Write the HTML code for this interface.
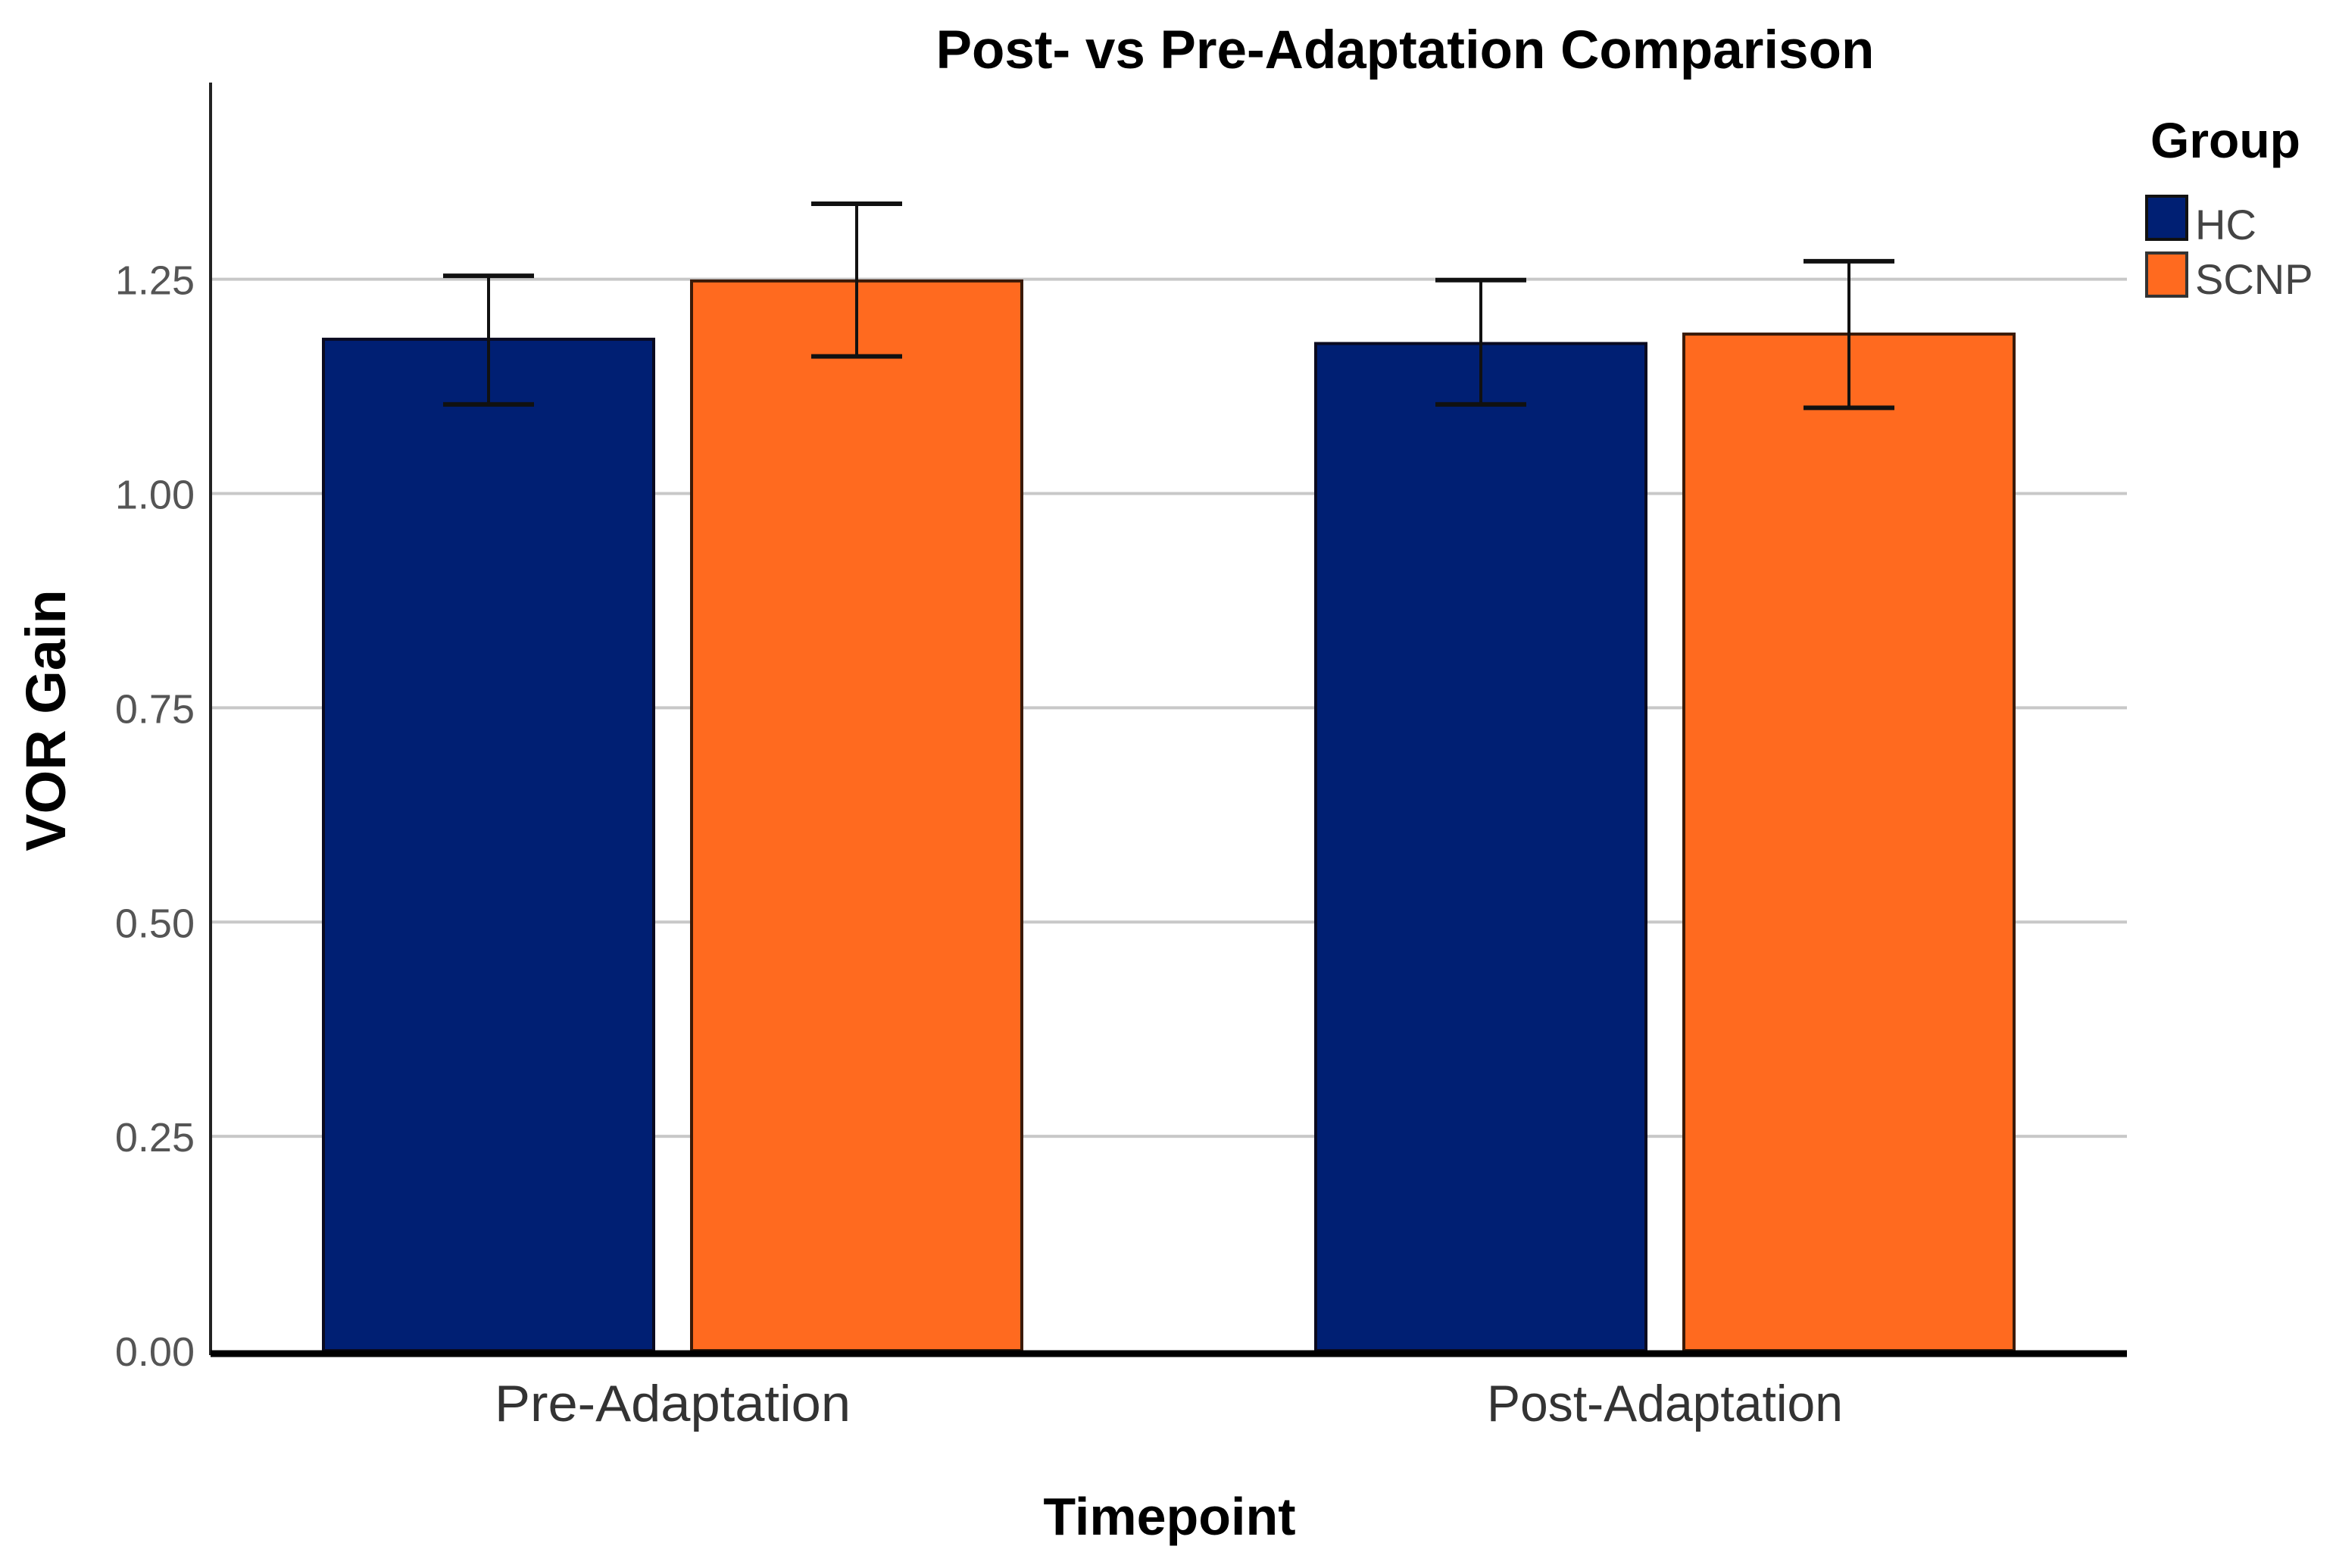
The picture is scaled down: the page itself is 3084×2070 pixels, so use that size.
<!DOCTYPE html>
<html><head><meta charset="utf-8"><style>
html,body{margin:0;padding:0;background:#fff;}
svg{display:block;font-family:"Liberation Sans",Arial,sans-serif;}
</style></head><body>
<svg id="chart" width="3084" height="2070" viewBox="0 0 3084 2070" xmlns="http://www.w3.org/2000/svg">
<rect width="3084" height="2070" fill="#fff"/>
<text x="1855" y="90" font-size="71" font-weight="bold" text-anchor="middle" fill="#000">Post- vs Pre-Adaptation Comparison</text>
<g id="grid"></g>
<g id="bars"></g>
<g id="errs"></g>
<g id="axes"></g>
<text transform="translate(86,951) rotate(-90)" font-size="74" font-weight="bold" text-anchor="middle" fill="#000">VOR Gain</text>
<text x="1544" y="2026" font-size="70" font-weight="bold" text-anchor="middle" fill="#000">Timepoint</text>
<g>
<text x="2839" y="208" font-size="66" font-weight="bold" fill="#000">Group</text>
<g>
<rect x="2834" y="259" width="53" height="57" fill="#001f73" stroke="#111" stroke-width="4"/>
<text x="2898" y="316" font-size="56" fill="#444">HC</text></g>
<g>
<rect x="2834" y="334" width="53" height="57" fill="#ff6a1f" stroke="#333" stroke-width="4"/>
<text x="2898" y="388" font-size="56" fill="#444">SCNP</text></g>
</g>
</svg>
<script>
const categories = ["Pre-Adaptation", "Post-Adaptation"];
const groups = ["HC", "SCNP"];
const hcMeans = [1.180, 1.175];
const scnpMeans = [1.248, 1.186];
const hcLow = [1.104, 1.104];
const hcHigh = [1.254, 1.249];
const scnpLow = [1.160, 1.100];
const scnpHigh = [1.338, 1.271];
const yTicks = [0, 0.25, 0.5, 0.75, 1.0, 1.25];
const yTickLabels = ["0.00", "0.25", "0.50", "0.75", "1.00", "1.25"];

const NS = "http://www.w3.org/2000/svg";
const X0 = 278, X1 = 2808, Y0 = 1783, PXU = 1131.5;
const yS = v => Y0 - v * PXU;
const groupCenter = i => 888 + i * 1310;
const barW = 436, barGap = 50;
const barX = (i, g) => groupCenter(i) + (g === 0 ? -(barGap / 2 + barW) : barGap / 2);
function mk(tag, attrs, parent) {
  const e = document.createElementNS(NS, tag);
  for (const k in attrs) e.setAttribute(k, attrs[k]);
  parent.appendChild(e);
  return e;
}
const grid = document.getElementById('grid');
const axes = document.getElementById('axes');
yTicks.forEach((t, i) => {
  if (t > 0) {
    const l = mk('line', {x1: X0, x2: X1, y1: yS(t), y2: yS(t), stroke: '#c8c8c8', 'stroke-width': 4}, grid);
    
    
  }
  const tx = mk('text', {x: 257, y: yS(t) + 20, 'font-size': 54, 'text-anchor': 'end', fill: '#555'}, axes);
  tx.textContent = yTickLabels[i];
  
  
});
const bars = document.getElementById('bars');
const errs = document.getElementById('errs');
const series = [
  {means: hcMeans, low: hcLow, high: hcHigh, fill: '#001f73', stroke: '#0a0a20'},
  {means: scnpMeans, low: scnpLow, high: scnpHigh, fill: '#ff6a1f', stroke: '#3a1a08'}
];
categories.forEach((c, i) => {
  series.forEach((s, g) => {
    const x = barX(i, g);
    const r = mk('rect', {x: x, y: yS(s.means[i]), width: barW, height: yS(0) - yS(s.means[i]), fill: s.fill, stroke: s.stroke, 'stroke-width': 4}, bars);
    
    
    const cx = x + barW / 2;
    const eg = mk('g', {stroke: '#111', 'stroke-width': 4}, errs);
    
    
    mk('line', {x1: cx, x2: cx, y1: yS(s.high[i]), y2: yS(s.low[i])}, eg);
    mk('line', {x1: cx - 60, x2: cx + 60, y1: yS(s.high[i]), y2: yS(s.high[i]), 'stroke-width': 6}, eg);
    mk('line', {x1: cx - 60, x2: cx + 60, y1: yS(s.low[i]), y2: yS(s.low[i]), 'stroke-width': 6}, eg);
  });
  const lb = mk('text', {x: groupCenter(i), y: 1876, 'font-size': 68, 'text-anchor': 'middle', fill: '#333', textLength: 470, lengthAdjust: 'spacingAndGlyphs'}, axes);
  lb.textContent = c;
  
  
});
const ya = mk('line', {x1: X0, x2: X0, y1: 109, y2: Y0 + 6, stroke: '#222', 'stroke-width': 4}, axes);


const xa = mk('line', {x1: X0, x2: X1, y1: Y0 + 4, y2: Y0 + 4, stroke: '#000', 'stroke-width': 9}, axes);


</script>
</body></html>
